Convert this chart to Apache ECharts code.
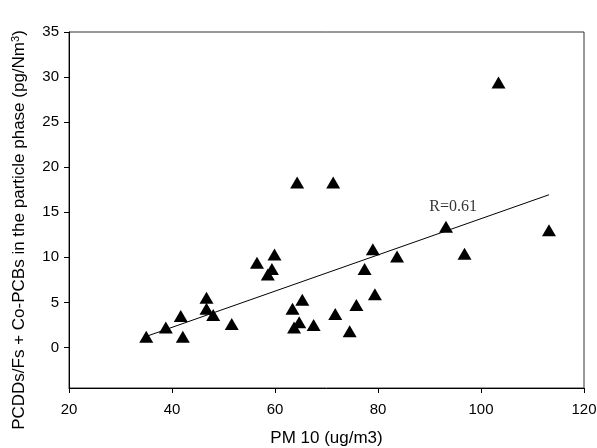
<!DOCTYPE html>
<html>
<head>
<meta charset="utf-8">
<script src="https://cdn.jsdelivr.net/npm/echarts@6/dist/echarts.min.js"></script>
<style>
  html, body { margin: 0; padding: 0; background: #fff; }
  #chart { width: 597px; height: 448px; }
</style>
</head>
<body>
<div id="chart"></div>
<script>
// PM10 (ug/m3) vs PCDDs/Fs + Co-PCBs in particle phase (pg/Nm3)
const pm10 = [
  35.0, 38.8, 41.7, 42.1, 46.7, 46.7, 48.0, 51.6, 56.5, 58.6,
  59.4, 59.9, 64.3, 71.3, 103.4, 63.4, 65.3, 64.7, 63.7, 67.5,
  71.7, 74.5, 75.8, 77.4, 79.4, 79.0, 83.7, 93.2, 96.8, 113.2
];
const pcdd = [
  1.2, 2.2, 3.5, 1.2, 5.5, 4.3, 3.6, 2.6, 9.4, 8.1,
  8.7, 10.3, 18.3, 18.3, 29.4, 4.3, 5.3, 2.8, 2.2, 2.5,
  3.7, 1.8, 4.7, 8.7, 5.9, 10.9, 10.1, 13.4, 10.4, 13.0
];
const yTicks = [0, 5, 10, 15, 20, 25, 30, 35];
const xTicks = [20, 40, 60, 80, 100, 120];
const rLabel = 'R=0.61';
const rLabelAt = [94.6, 15.6];

// least squares fit
const n = pm10.length;
const mx = pm10.reduce((a, b) => a + b, 0) / n;
const my = pcdd.reduce((a, b) => a + b, 0) / n;
let sxy = 0, sxx = 0;
pm10.forEach((x, i) => {
  sxy += (x - mx) * (pcdd[i] - my);
  sxx += (x - mx) * (x - mx);
});
const slope = sxy / sxx;
const intercept = my - slope * mx;
const xMin = Math.min(...pm10);
const xMax = Math.max(...pm10);
const fitLine = [[xMin, intercept + slope * xMin], [xMax, intercept + slope * xMax]];

const chart = echarts.init(document.getElementById('chart'));
const axisFont = { fontFamily: 'Liberation Sans', fontSize: 15, color: '#000' };
const titleFont = { fontFamily: 'Liberation Sans', fontSize: 17, color: '#000' };

chart.setOption({
  animation: false,
  grid: {
    left: 69, right: 13, top: 32, bottom: 60,
    outerBoundsMode: 'none',
    show: true, borderColor: '#333', borderWidth: 1
  },
  xAxis: {
    type: 'value',
    min: 20, max: 120, interval: 20,
    name: 'PM 10 (ug/m3)',
    nameLocation: 'middle',
    nameGap: 42,
    nameTextStyle: titleFont,
    axisLine: { onZero: false, lineStyle: { color: '#000', width: 1 } },
    axisTick: { show: true, inside: false, length: 5, lineStyle: { color: '#000' }, customValues: xTicks },
    axisLabel: Object.assign({ margin: 14, customValues: xTicks }, axisFont),
    splitLine: { show: false }
  },
  yAxis: {
    type: 'value',
    min: -4.5, max: 35,
    name: 'PCDDs/Fs + Co-PCBs in the particle phase (pg/Nm{sup|3})',
    nameLocation: 'middle',
    nameGap: 40,
    nameTextStyle: Object.assign({
      padding: [0, 40, 0, 0],
      rich: {
        sup: { fontFamily: 'Liberation Sans', fontSize: 11, color: '#000', verticalAlign: 'top', padding: [0, 0, 8, 0] }
      }
    }, titleFont),
    axisLine: { onZero: false, lineStyle: { color: '#000', width: 1 } },
    axisTick: { show: true, inside: false, length: 5, lineStyle: { color: '#000' }, customValues: yTicks },
    axisLabel: Object.assign({ margin: 10, customValues: yTicks }, axisFont),
    splitLine: { show: false }
  },
  series: [
    {
      type: 'line',
      data: fitLine,
      symbol: 'none',
      lineStyle: { color: '#000', width: 1 },
      z: 2
    },
    {
      type: 'scatter',
      data: pm10.map((x, i) => [x, pcdd[i]]),
      symbol: 'triangle',
      symbolSize: [14, 12],
      itemStyle: { color: '#000', opacity: 1 },
      z: 3
    },
    {
      type: 'scatter',
      data: [rLabelAt],
      symbolSize: 0,
      label: {
        show: true,
        position: 'inside',
        formatter: rLabel,
        fontFamily: 'Liberation Serif',
        fontSize: 16,
        color: '#000'
      }
    }
  ]
});
</script>
</body>
</html>
